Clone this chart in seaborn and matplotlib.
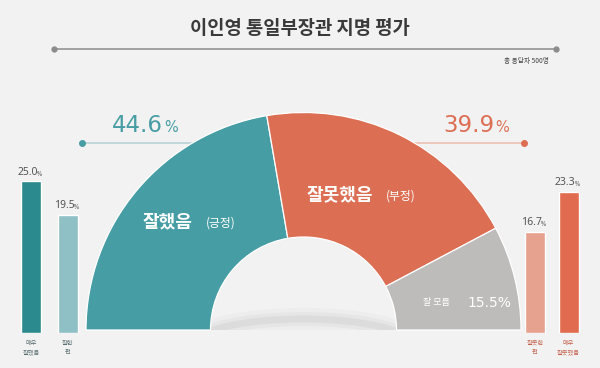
import numpy as np
import pandas as pd
import matplotlib
matplotlib.use("Agg")
import matplotlib.pyplot as plt
from matplotlib.patches import Ellipse, Rectangle
import seaborn as sns

# data
summary_labels = ["잘했음", "잘못했음", "잘 모름"]
summary_tags = ["(긍정)", "(부정)", ""]
summary_values = [44.6, 39.9, 15.5]

pos_labels = ["매우\n잘했음", "잘한\n편"]
pos_values = [25.0, 19.5]
neg_labels = ["잘못한\n편", "매우\n잘못했음"]
neg_values = [16.7, 23.3]

title = "이인영 통일부장관 지명 평가"
subtitle = "총 응답자 500명"

# colours
bg_col = "#f2f2f2"
teal = "#469da3"
orange = "#dc6f53"
grey = "#bebcba"
pos_colors = ["#2b8a8e", "#8fc0c5"]
neg_colors = ["#e6a18f", "#e06b4e"]

sns.set_style("white")
plt.rcParams["font.family"] = ["Noto Sans CJK KR", "DejaVu Sans"]

W, H = 600, 368
fig = plt.figure(figsize=(6, 3.68), dpi=100, facecolor=bg_col)

# background axes in pixel units (for lines and text)
bg = fig.add_axes([0, 0, 1, 1], zorder=0)
bg.set_xlim(0, W)
bg.set_ylim(H, 0)
bg.axis("off")

# title and rule
bg.text(300, 28, title, ha="center", va="center", fontsize=13.5,
        fontweight="bold", color="#3a3a3a")
bg.plot([54, 556], [49, 49], color="#8c8c8c", lw=1.1)
bg.plot([54, 556], [49, 49], "o", color="#8c8c8c", ms=3.5)
bg.text(549, 61, subtitle, ha="right", va="center", fontsize=4.8, color="#444444")

# leader lines behind the donut
bg.plot([82, 240], [143, 143], color="#b3d0d3", lw=1.1)
bg.plot([82], [143], "o", color=teal, ms=4)
bg.plot([370, 524], [143, 143], color="#ebbcae", lw=1.1)
bg.plot([524], [143], "o", color=orange, ms=4)

# soft shadow inside the hole
for lw, a in [(16, 0.04), (10, 0.06), (5, 0.09)]:
    e = Ellipse((303, 344), 215, 50, fill=False, edgecolor="#7a7a7a", lw=lw, alpha=a)
    bg.add_patch(e)
    e.set_clip_path(Rectangle((0, 300), W, 30, transform=bg.transData))

# half donut
cx, cy, r_out, r_in = 303.5, 330, 217.5, 93
dax = fig.add_axes([(cx - r_out) / W, (H - cy - r_out) / H, 2 * r_out / W, 2 * r_out / H],
                   zorder=1)
dax.patch.set_alpha(0)
wedges, _ = dax.pie(summary_values + [sum(summary_values)],
                    colors=[teal, orange, grey, "none"],
                    startangle=180, counterclock=False, radius=1,
                    wedgeprops=dict(width=1 - r_in / r_out, edgecolor="white", linewidth=0.9))
wedges[-1].set_visible(False)
dax.set_xlim(-1, 1)
dax.set_ylim(-1, 1)
dax.axis("off")

# foreground text
fg = fig.add_axes([0, 0, 1, 1], zorder=3)
fg.set_xlim(0, W)
fg.set_ylim(H, 0)
fg.axis("off")

big = dict(family="DejaVu Sans", va="baseline")
fg.text(163, 132, f"{summary_values[0]:.1f}", ha="right", fontsize=16.5, color=teal, **big)
fg.text(164, 132, "%", ha="left", fontsize=10.5, color=teal, **big)
fg.text(494, 132, f"{summary_values[1]:.1f}", ha="right", fontsize=16.5, color=orange, **big)
fg.text(495, 132, "%", ha="left", fontsize=10.5, color=orange, **big)

fg.text(143, 222, summary_labels[0], ha="left", va="center", fontsize=13,
        fontweight="bold", color="white")
fg.text(206, 223, summary_tags[0], ha="left", va="center", fontsize=8.5, color="white")
fg.text(307, 195, summary_labels[1], ha="left", va="center", fontsize=13,
        fontweight="bold", color="white")
fg.text(386, 196, summary_tags[1], ha="left", va="center", fontsize=8.5, color="white")
fg.text(423, 302, summary_labels[2], ha="left", va="center", fontsize=6.5, color="white")
fg.text(467, 307, f"{summary_values[2]:.1f}%", ha="left", va="baseline",
        fontsize=10, color="white", family="DejaVu Sans")

# side bars
unit = 6.07  # pixels per percentage point
bar_bottom = 333


def side_bars(left_px, step_px, labels, values, colors, label_col):
    ax = fig.add_axes([left_px / W, (H - bar_bottom) / H, 2 * step_px / W, 30 * unit / H],
                      zorder=2)
    ax.patch.set_alpha(0)
    sns.barplot(x=labels, y=values, hue=labels, palette=colors, width=20 / step_px,
                saturation=1, legend=False, ax=ax)
    ax.set_xlim(-0.5, 1.5)
    ax.set_ylim(0, 30)
    for s in ax.spines.values():
        s.set_visible(False)
    ax.set_yticks([])
    ax.set_xlabel("")
    ax.set_ylabel("")
    ax.tick_params(axis="x", length=0, pad=4)
    for lab in ax.get_xticklabels():
        lab.set_fontsize(4.5)
        lab.set_color(label_col)
        lab.set_linespacing(1.3)
    for i, v in enumerate(values):
        ax.annotate(f"{v:.1f}", xy=(i, v), xytext=(-2.5, 2.5), textcoords="offset points",
                    ha="center", va="bottom", fontsize=7.5, color="#555555", family="Noto Sans")
        ax.annotate("%", xy=(i, v), xytext=(4.2, 2.5), textcoords="offset points",
                    ha="left", va="bottom", fontsize=4.5, color="#555555", family="Noto Sans")
    return ax


side_bars(12.75, 36.5, pos_labels, pos_values, pos_colors, "#5a6e70")
side_bars(518.25, 33.5, neg_labels, neg_values, neg_colors, "#c4634b")

fig.savefig("out.png", dpi=100, facecolor=bg_col)
